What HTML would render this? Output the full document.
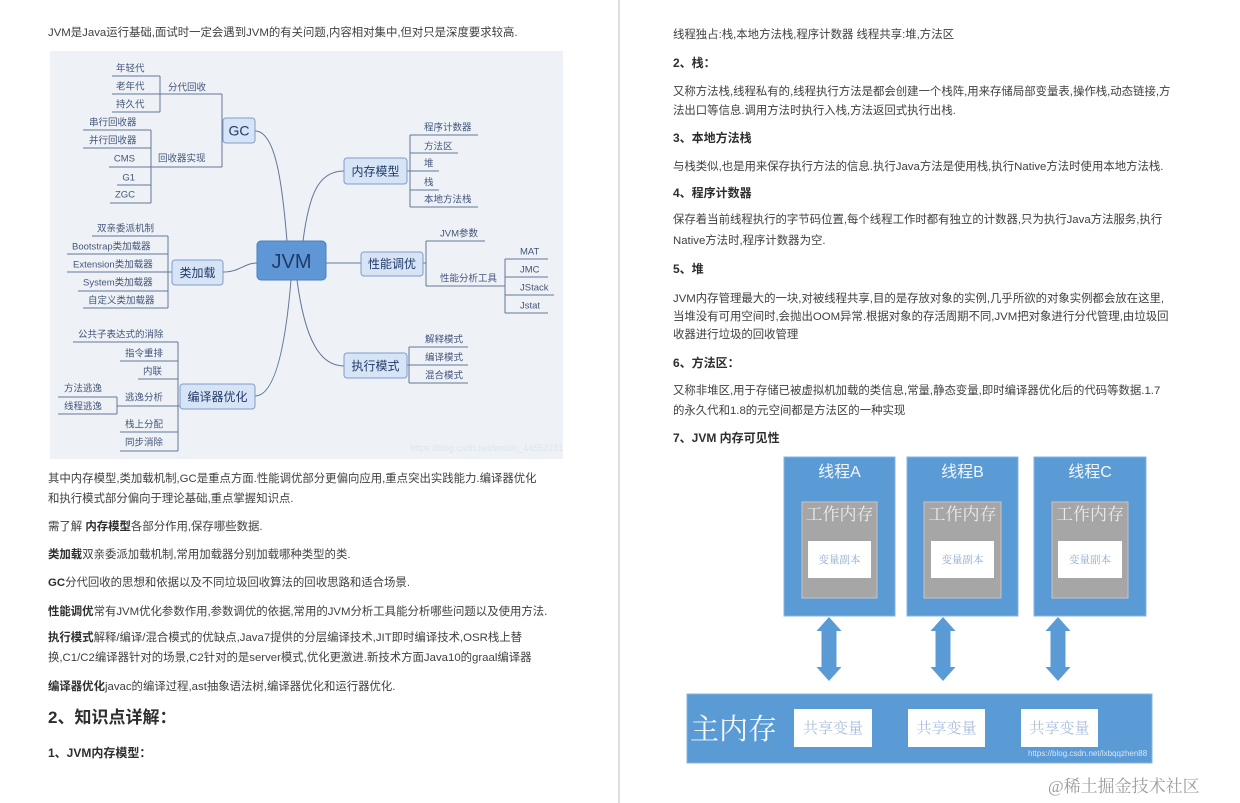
<!DOCTYPE html>
<html><head><meta charset="utf-8">
<style>
html,body{margin:0;padding:0;background:#fff;}
body{width:1240px;height:803px;position:relative;overflow:hidden;font-family:"Liberation Sans","Noto Sans CJK SC",sans-serif;}
.t{position:absolute;white-space:nowrap;font-size:11.4px;line-height:16px;color:#404040;}
.t b{color:#2e2e2e;}
.h{position:absolute;white-space:nowrap;font-size:12px;line-height:16px;color:#2e2e2e;font-weight:bold;}
svg{position:absolute;left:0;top:0;}
</style></head><body>
<svg width="1240" height="803" viewBox="0 0 1240 803">
<rect x="618" y="0" width="2" height="803" fill="#dedede"/>
<!-- mind map -->
<rect x="50" y="51" width="513" height="408" fill="#eef2f7"/>
<g stroke="#62769a" stroke-width="1" fill="none">
<path d="M112 76H160M112 94H222M112 112H160M160 76V112M222 94V167"/>
<path d="M83 130H151M83 148H151M109 167H222M117 185H151M110 203H151M151 130V203"/>
<path d="M255 131C275 131 282 180 287 241"/>
<path d="M92 236H168M67 254H168M67 272H172M78 291H168M83 308H168M168 236V308"/>
<path d="M223 272C240 272 244 263 257 263"/>
<path d="M73 342H178M120 361H178M138 379H178M58 397H117M58 414H117M117 397V414M117 406H180M120 432H178M120 451H178M178 342V451"/>
<path d="M255 396C276 396 286 340 291 280"/>
<path d="M410 135H478M410 153H458M407 171H439M410 190H439M410 207H478M410 135V207"/>
<path d="M303 241C309 195 318 171 344 171"/>
<path d="M326 263H361M423 263H426M426 241H485M426 286H505M426 241V286"/>
<path d="M505 259H548M505 277H548M505 295H554M505 313H548M505 259V313"/>
<path d="M409 347H468M407 365H468M409 383H468M409 347V383"/>
<path d="M297 280C305 340 320 366 344 366"/>
</g>
<g fill="#d7e4f6" stroke="#7d9ccb" stroke-width="1">
<rect x="223" y="118" width="32" height="25" rx="3"/>
<rect x="172" y="260" width="51" height="25" rx="3"/>
<rect x="180" y="384" width="75" height="25" rx="3"/>
<rect x="344" y="158" width="63" height="26" rx="3"/>
<rect x="361" y="252" width="62" height="24" rx="3"/>
<rect x="344" y="353" width="63" height="25" rx="3"/>
</g>
<rect x="257" y="241" width="69" height="39" rx="4" fill="#5f97d6" stroke="#4b7fbf"/>
<g font-family="Liberation Sans, Noto Sans CJK SC, sans-serif" fill="#1f3a68" text-anchor="middle">
<text x="239" y="135.5" font-size="14">GC</text>
<text x="197.5" y="277" font-size="12">类加载</text>
<text x="217.5" y="401" font-size="12">编译器优化</text>
<text x="375.5" y="175.5" font-size="12">内存模型</text>
<text x="392" y="268" font-size="12">性能调优</text>
<text x="375.5" y="370" font-size="12">执行模式</text>
<text x="291.5" y="268" font-size="20">JVM</text>
</g>
<g font-family="Liberation Sans, Noto Sans CJK SC, sans-serif" font-size="9.5" fill="#43557a">
<text x="116" y="71.5">年轻代</text>
<text x="116" y="89.5">老年代</text>
<text x="116" y="107.5">持久代</text>
<text x="168" y="90.5">分代回收</text>
<text x="89" y="125.5">串行回收器</text>
<text x="89" y="143.5">并行回收器</text>
<text x="135" y="161.5" text-anchor="end">CMS</text>
<text x="158" y="161.5">回收器实现</text>
<text x="135" y="180.5" text-anchor="end">G1</text>
<text x="135" y="197.5" text-anchor="end">ZGC</text>
<text x="97" y="231.5">双亲委派机制</text>
<text x="72" y="249.5">Bootstrap类加载器</text>
<text x="73" y="267.5">Extension类加载器</text>
<text x="83" y="285.5">System类加载器</text>
<text x="88" y="303.5">自定义类加载器</text>
<text x="78" y="337.5">公共子表达式的消除</text>
<text x="125" y="356.5">指令重排</text>
<text x="143" y="374.5">内联</text>
<text x="64" y="391.5">方法逃逸</text>
<text x="64" y="409.5">线程逃逸</text>
<text x="125" y="400.5">逃逸分析</text>
<text x="125" y="427.5">栈上分配</text>
<text x="125" y="445.5">同步消除</text>
<text x="424" y="130.5">程序计数器</text>
<text x="424" y="149.5">方法区</text>
<text x="424" y="166.5">堆</text>
<text x="424" y="185.5">栈</text>
<text x="424" y="202.5">本地方法栈</text>
<text x="440" y="236.5">JVM参数</text>
<text x="440" y="281.5">性能分析工具</text>
<text x="520" y="254.5">MAT</text>
<text x="520" y="272.5">JMC</text>
<text x="520" y="290.5">JStack</text>
<text x="520" y="308.5">Jstat</text>
<text x="425" y="342.5">解释模式</text>
<text x="425" y="360.5">编译模式</text>
<text x="425" y="378.5">混合模式</text>
</g>
<text x="410" y="451" font-family="Liberation Sans, sans-serif" font-size="9" fill="#dfe4eb">https://blog.csdn.net/weixin_44552231</text>

<!-- memory visibility diagram -->
<g fill="#5b9bd5" stroke="#86b4e0" stroke-width="1">
<rect x="784" y="457" width="111" height="159"/>
<rect x="907" y="457" width="111" height="159"/>
<rect x="1034" y="457" width="112" height="159"/>
</g>
<g fill="#a6a6a6" stroke="#c4c4c4" stroke-width="1">
<rect x="802" y="502" width="75" height="96"/>
<rect x="924" y="502" width="77" height="96"/>
<rect x="1052" y="502" width="76" height="96"/>
</g>
<g fill="#ffffff">
<rect x="808" y="541" width="63" height="37"/>
<rect x="931" y="541" width="63" height="37"/>
<rect x="1058" y="541" width="64" height="37"/>
</g>
<g font-family="Liberation Sans, Noto Sans CJK SC, sans-serif" font-size="16" fill="#f3f7fc" text-anchor="middle">
<text x="839.5" y="477">线程A</text>
<text x="962.5" y="477">线程B</text>
<text x="1090" y="477">线程C</text>
</g>
<g font-family="Liberation Serif, Noto Serif CJK SC, serif" font-size="17" fill="#ececec" text-anchor="middle">
<text x="839.5" y="520">工作内存</text>
<text x="962.5" y="520">工作内存</text>
<text x="1090" y="520">工作内存</text>
</g>
<g font-family="Liberation Serif, Noto Serif CJK SC, serif" font-size="10.5" fill="#8ea9cc" text-anchor="middle">
<text x="839.5" y="563">变量副本</text>
<text x="962.5" y="563">变量副本</text>
<text x="1090" y="563">变量副本</text>
</g>
<g fill="#5b9bd5">
<polygon points="829,617 841.5,631 836.5,631 836.5,667 841.5,667 829,681 816.5,667 821.5,667 821.5,631 816.5,631"/>
<polygon points="943,617 955.5,631 950.5,631 950.5,667 955.5,667 943,681 930.5,667 935.5,667 935.5,631 930.5,631"/>
<polygon points="1058,617 1070.5,631 1065.5,631 1065.5,667 1070.5,667 1058,681 1045.5,667 1050.5,667 1050.5,631 1045.5,631"/>
<rect x="687" y="694" width="465" height="69" stroke="#86b4e0" stroke-width="1"/>
</g>
<g fill="#ffffff">
<rect x="794" y="709" width="78" height="38"/>
<rect x="908" y="709" width="77" height="38"/>
<rect x="1021" y="709" width="77" height="38"/>
</g>
<text x="690" y="739" font-family="Liberation Serif, Noto Serif CJK SC, serif" font-size="29" fill="#f5f8fc">主内存</text>
<g font-family="Liberation Serif, Noto Serif CJK SC, serif" font-size="15" fill="#a9bedb" text-anchor="middle">
<text x="833" y="733">共享变量</text>
<text x="946.5" y="733">共享变量</text>
<text x="1059.5" y="733">共享变量</text>
</g>
<text x="1028" y="756" font-family="Liberation Sans, sans-serif" font-size="8" fill="#d7e4f3">https://blog.csdn.net/lxbqqzhen88</text>
<text x="1048" y="792" font-family="Liberation Serif, Noto Serif CJK SC, serif" font-size="17" fill="#9c9c9c">@稀土掘金技术社区</text>
</svg>

<!-- left page text -->
<div class="t" style="left:48px;top:25px;">JVM是Java运行基础,面试时一定会遇到JVM的有关问题,内容相对集中,但对只是深度要求较高.</div>
<div class="t" style="left:48px;top:471px;">其中内存模型,类加载机制,GC是重点方面.性能调优部分更偏向应用,重点突出实践能力.编译器优化</div>
<div class="t" style="left:48px;top:491px;">和执行模式部分偏向于理论基础,重点掌握知识点.</div>
<div class="t" style="left:48px;top:519px;">需了解 <b>内存模型</b>各部分作用,保存哪些数据.</div>
<div class="t" style="left:48px;top:547px;"><b>类加载</b>双亲委派加载机制,常用加载器分别加载哪种类型的类.</div>
<div class="t" style="left:48px;top:575px;"><b>GC</b>分代回收的思想和依据以及不同垃圾回收算法的回收思路和适合场景.</div>
<div class="t" style="left:48px;top:604px;"><b>性能调优</b>常有JVM优化参数作用,参数调优的依据,常用的JVM分析工具能分析哪些问题以及使用方法.</div>
<div class="t" style="left:48px;top:630px;"><b>执行模式</b>解释/编译/混合模式的优缺点,Java7提供的分层编译技术,JIT即时编译技术,OSR栈上替</div>
<div class="t" style="left:48px;top:650px;">换,C1/C2编译器针对的场景,C2针对的是server模式,优化更激进.新技术方面Java10的graal编译器</div>
<div class="t" style="left:48px;top:679px;"><b>编译器优化</b>javac的编译过程,ast抽象语法树,编译器优化和运行器优化.</div>
<div class="h" style="left:48px;top:707px;font-size:17px;line-height:22px;">2、知识点详解：</div>
<div class="h" style="left:48px;top:745px;">1、JVM内存模型：</div>

<!-- right page text -->
<div class="t" style="left:673px;top:27px;">线程独占:栈,本地方法栈,程序计数器 线程共享:堆,方法区</div>
<div class="h" style="left:673px;top:55px;">2、栈：</div>
<div class="t" style="left:673px;top:84px;">又称方法栈,线程私有的,线程执行方法是都会创建一个栈阵,用来存储局部变量表,操作栈,动态链接,方</div>
<div class="t" style="left:673px;top:103px;">法出口等信息.调用方法时执行入栈,方法返回式执行出栈.</div>
<div class="h" style="left:673px;top:130px;">3、本地方法栈</div>
<div class="t" style="left:673px;top:159px;">与栈类似,也是用来保存执行方法的信息.执行Java方法是使用栈,执行Native方法时使用本地方法栈.</div>
<div class="h" style="left:673px;top:185px;">4、程序计数器</div>
<div class="t" style="left:673px;top:212px;">保存着当前线程执行的字节码位置,每个线程工作时都有独立的计数器,只为执行Java方法服务,执行</div>
<div class="t" style="left:673px;top:233px;">Native方法时,程序计数器为空.</div>
<div class="h" style="left:673px;top:261px;">5、堆</div>
<div class="t" style="left:673px;top:291px;">JVM内存管理最大的一块,对被线程共享,目的是存放对象的实例,几乎所欲的对象实例都会放在这里,</div>
<div class="t" style="left:673px;top:309px;">当堆没有可用空间时,会抛出OOM异常.根据对象的存活周期不同,JVM把对象进行分代管理,由垃圾回</div>
<div class="t" style="left:673px;top:327px;">收器进行垃圾的回收管理</div>
<div class="h" style="left:673px;top:355px;">6、方法区：</div>
<div class="t" style="left:673px;top:383px;">又称非堆区,用于存储已被虚拟机加载的类信息,常量,静态变量,即时编译器优化后的代码等数据.1.7</div>
<div class="t" style="left:673px;top:403px;">的永久代和1.8的元空间都是方法区的一种实现</div>
<div class="h" style="left:673px;top:430px;">7、JVM 内存可见性</div>
</body></html>
